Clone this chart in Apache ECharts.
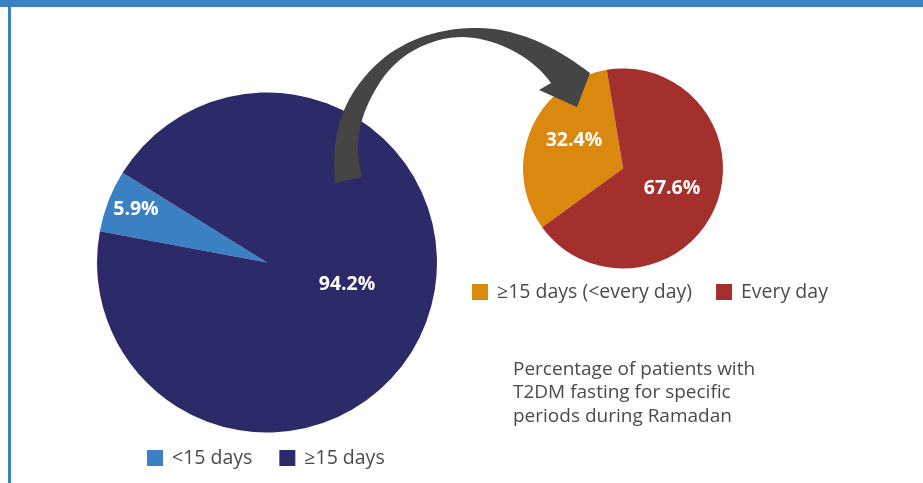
<!DOCTYPE html>
<html>
<head>
<meta charset="utf-8">
<title>Ramadan fasting pies</title>
<script src="https://cdn.jsdelivr.net/npm/echarts@6/dist/echarts.min.js"></script>
<style>
  html, body { margin: 0; padding: 0; background: #fff; }
  #main { width: 923px; height: 483px; }
</style>
</head>
<body>
<div id="main"></div>
<script>
    // data
    var allNames = ['<15 days', '≥15 days'];
    var allValues = [5.9, 94.2];
    var subNames = ['≥15 days (<every day)', 'Every day'];
    var subValues = [32.4, 67.6];
    var noteLines = ['Percentage of patients with', 'T2DM fasting for specific', 'periods during Ramadan'];

    var allColors = ['#3a80c3', '#2d2a69'];
    var subColors = ['#da890e', '#a3302c'];
    var FONT = '"Open Sans", "Noto Sans", sans-serif';

    // nudges for the inside labels (x, y), per series / slice
    var labelShift = [[[-49, -21], [-2, -10]], [[0, -8], [0, 0]]];

    var myChart = echarts.init(document.getElementById('main'));

    function pieData(names, values, colors) {
        var out = [];
        for (var i = 0; i < names.length; i++) {
            out.push({ name: names[i], value: values[i], itemStyle: { color: colors[i] } });
        }
        return out;
    }

    // arrow outline: cubic pieces sampled into a polygon (decoration only)
    function cubic(p0, p1, p2, p3, n, out) {
        for (var i = 0; i <= n; i++) {
            var t = i / n, u = 1 - t;
            out.push([
                u * u * u * p0[0] + 3 * u * u * t * p1[0] + 3 * u * t * t * p2[0] + t * t * t * p3[0],
                u * u * u * p0[1] + 3 * u * u * t * p1[1] + 3 * u * t * t * p2[1] + t * t * t * p3[1]
            ]);
        }
    }
    var arrowPts = [];
    cubic([335, 183], [330, 130], [345, 90], [385, 57], 20, arrowPts);
    cubic([385, 57], [420, 30], [470, 22], [510, 32], 20, arrowPts);
    cubic([510, 32], [545, 41], [570, 58], [590, 73], 12, arrowPts);
    arrowPts.push([577, 107], [539, 90]);
    cubic([551, 83], [535, 60], [500, 38], [463, 37], 16, arrowPts);
    cubic([463, 37], [430, 37], [395, 55], [377, 87], 16, arrowPts);
    cubic([377, 87], [362, 112], [352, 140], [362, 177], 16, arrowPts);

    var pieLabel = {
        show: true,
        position: 'inside',
        color: '#fff',
        fontFamily: FONT,
        fontSize: 19.5,
        fontWeight: 'bold',
        formatter: function (p) { return p.value.toFixed(1) + '%'; }
    };

    var legendText = { color: '#4a4a4a', fontSize: 19.5, fontFamily: FONT, padding: [0, 0, 0, 4] };

    var option = {
        animation: false,
        backgroundColor: '#fff',
        title: {
            text: noteLines.join('\n'),
            left: 508,
            top: 352.5,
            textStyle: { color: '#4a4a4a', fontSize: 19, fontWeight: 'normal', fontFamily: FONT, lineHeight: 23.5 }
        },
        legend: [{
            data: allNames,
            left: 142,
            top: 443,
            itemWidth: 16,
            itemHeight: 16,
            itemGap: 27,
            icon: 'rect',
            textStyle: legendText
        }, {
            data: subNames,
            left: 467,
            top: 277,
            itemWidth: 16,
            itemHeight: 16,
            itemGap: 24,
            icon: 'rect',
            textStyle: legendText
        }],
        graphic: [
            // blue header strip and left frame line
            { type: 'rect', silent: true, shape: { x: 0, y: 0, width: 923, height: 7 }, style: { fill: '#3c80c4' } },
            { type: 'rect', silent: true, shape: { x: 8, y: 0, width: 3, height: 483 }, style: { fill: '#3c80c4' } },
            // curved arrow from big pie to small pie
            { type: 'polygon', silent: true, z: 100, shape: { points: arrowPts }, style: { fill: '#454545' } }
        ],
        series: [{
            name: 'all',
            type: 'pie',
            center: [267, 262.5],
            radius: 170,
            startAngle: 169.4,
            clockwise: true,
            label: pieLabel,
            labelLine: { show: false },
            itemStyle: { borderWidth: 0 },
            emphasis: { disabled: true },
            labelLayout: function (p) {
                var s = labelShift[0][p.dataIndex];
                return { dx: s[0], dy: s[1] };
            },
            data: pieData(allNames, allValues, allColors)
        }, {
            name: 'sub',
            type: 'pie',
            center: [623, 168.5],
            radius: 100,
            startAngle: 216,
            clockwise: true,
            label: pieLabel,
            labelLine: { show: false },
            itemStyle: { borderWidth: 0 },
            emphasis: { disabled: true },
            labelLayout: function (p) {
                var s = labelShift[1][p.dataIndex];
                return { dx: s[0], dy: s[1] };
            },
            data: pieData(subNames, subValues, subColors)
        }]
    };

    myChart.setOption(option);
</script>
</body>
</html>
